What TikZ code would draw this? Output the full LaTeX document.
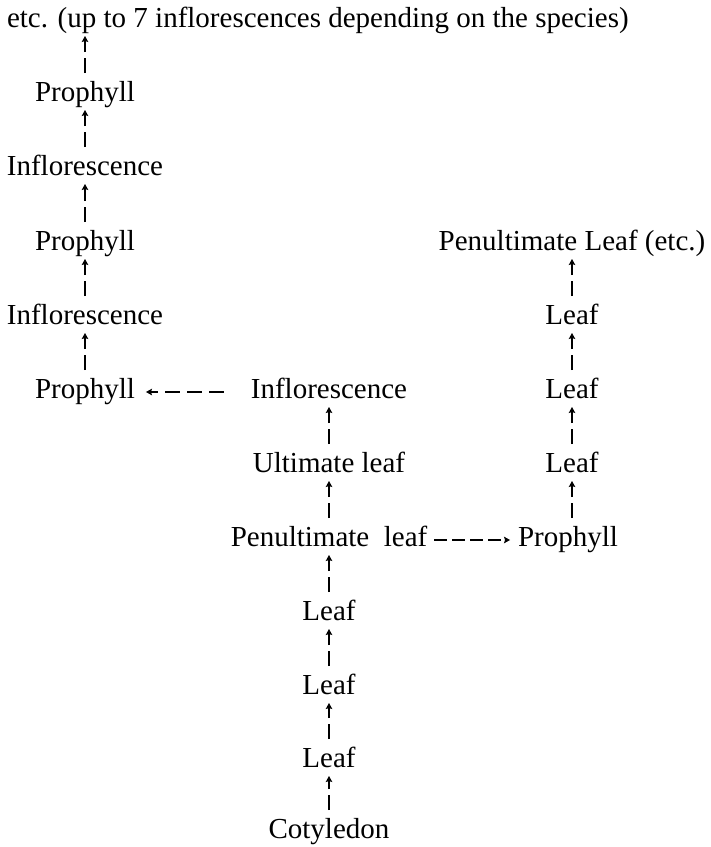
\documentclass[tikz,border=0pt]{standalone}
\usepackage{fontspec}
\setmainfont{Liberation Serif}
\usepackage{tikz}
\usetikzlibrary{arrows.meta}
\usetikzlibrary{calc}
\tikzset{x=1pt, y=-1pt, every node/.style={font={\fontsize{29pt}{34pt}\selectfont}}}
\tikzstyle{organ} = [inner sep=0pt, outer sep=0pt, text height=19pt, text depth=7pt]
\tikzstyle{upln} = [draw, line width=1.1pt, -{Stealth[length=6pt, width=6.5pt, inset=1pt]}, dash pattern=on 15pt off 6pt on 30pt, shorten <=9pt, shorten >=2pt]
\tikzstyle{sideln} = [draw, line width=1.1pt, -{Stealth[length=6pt, width=6.5pt, inset=1pt]}]

\begin{document}
\begin{tikzpicture}
  \useasboundingbox (0,0) rectangle (711,847);
  % left column: prophylls and inflorescences
  \node[organ, anchor=base west] (etc) at (7,27) {etc. (up to 7 inflorescences depending on the species)};
  \node[organ, anchor=base] (p1) at (85,101) {Prophyll};
  \node[organ, anchor=base] (i1) at (85,175) {Inflorescence};
  \node[organ, anchor=base] (p2) at (85,250) {Prophyll};
  \node[organ, anchor=base] (i2) at (85,324) {Inflorescence};
  \node[organ, anchor=base] (p3) at (85,398) {Prophyll};
  % main axis
  \node[organ, anchor=base] (i3) at (329,398) {Inflorescence};
  \node[organ, anchor=base] (ul) at (329,472) {Ultimate leaf};
  \node[organ, anchor=base] (pl) at (329,546) {Penultimate\hspace{0.5em}leaf};
  \node[organ, anchor=base] (l1) at (329,620) {Leaf};
  \node[organ, anchor=base] (l2) at (329,694) {Leaf};
  \node[organ, anchor=base] (l3) at (329,767) {Leaf};
  \node[organ, anchor=base] (cot) at (329,838) {Cotyledon};
  % lateral shoot
  \node[organ, anchor=base] (pen) at (572,250) {Penultimate Leaf (etc.)};
  \node[organ, anchor=base] (r1) at (572,324) {Leaf};
  \node[organ, anchor=base] (r2) at (572,398) {Leaf};
  \node[organ, anchor=base] (r3) at (572,472) {Leaf};
  \node[organ, anchor=base] (pr) at (568,546) {Prophyll};
  % connections
  \draw[upln] (p1) -- (p1 |- etc.south);
  \draw[upln] (i1) -- (p1);
  \draw[upln] (p2) -- (i1);
  \draw[upln] (i2) -- (p2);
  \draw[upln] (p3) -- (i2);
  \draw[upln] (cot) -- (l3);
  \draw[upln] (l3) -- (l2);
  \draw[upln] (l2) -- (l1);
  \draw[upln] (l1) -- (pl);
  \draw[upln] (pl) -- (ul);
  \draw[upln] (ul) -- (i3);
  \draw[upln] (r3 |- pr.north) -- (r3);
  \draw[upln] (r3) -- (r2);
  \draw[upln] (r2) -- (r1);
  \draw[upln] (r1) -- (pen);
  \draw[sideln, dash pattern=on 15pt off 7pt, shorten <=27pt, shorten >=11pt] (i3) -- (p3);
  \draw[sideln, dash pattern=on 13pt off 5pt, shorten <=7pt, shorten >=8pt] (pl) -- (pr);
\end{tikzpicture}
\end{document}
